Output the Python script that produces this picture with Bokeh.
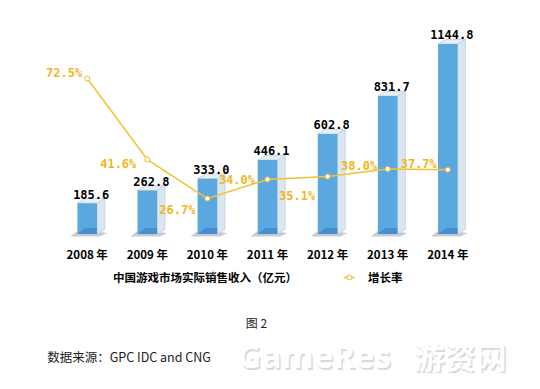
from bokeh.plotting import figure
from bokeh.models import Range1d, Legend, LegendItem, Label
from bokeh.core.properties import value
from bokeh.embed import file_html
from bokeh.resources import INLINE

# ---------------- data ----------------
years = ["2008 年", "2009 年", "2010 年", "2011 年", "2012 年", "2013 年", "2014 年"]
revenue = [185.6, 262.8, 333.0, 446.1, 602.8, 831.7, 1144.8]
growth = [72.5, 41.6, 26.7, 34.0, 35.1, 38.0, 37.7]
series_names = ["中国游戏市场实际销售收入（亿元）", "增长率"]
figure_caption = "图 2"
source_note = "数据来源：GPC IDC and CNG"
watermark_latin = "GameRes"
watermark_cjk = "游资网"

# ---------------- layout / style ----------------
W, H = 524, 373
PX_PER_CAT = 60.1      # px between bar centres
CAT0_PX = 86.7         # px from left of first bar centre
BASE_PX = 233.5        # px from top of the zero line (bars)
PX_PER_REV = 0.16597   # px per revenue unit
PCT0_PX = 268.0        # px from top of 0 %
PX_PER_PCT = 2.62      # px per percent point

BAR_W, DEPTH_X, DEPTH_Y = 19.6, 7.8, 4.6

# per-label pixel offsets for the growth labels (right edge, baseline)
pct_dx = [-5, -11, -12, -12.5, -12.5, -10.5, -11]
pct_dy = [-6, 4, 11, 1, 19, -3, -6]

BLUE = "#5BA8E1"
DARK_BLUE = "#3F86C8"
SIDE = "#DCE6F0"
TOP = "#E8EFF7"
EDGE = "#C6D5E4"
GOLD_LINE = "#F0C234"
GOLD_TEXT = "#F2B51C"

x_start = -CAT0_PX / PX_PER_CAT
x_end = (W - CAT0_PX) / PX_PER_CAT
y_start = -(H - BASE_PX) / PX_PER_REV
y_end = BASE_PX / PX_PER_REV
p_start = -(H - PCT0_PX) / PX_PER_PCT
p_end = PCT0_PX / PX_PER_PCT

p = figure(width=W, height=H, x_range=Range1d(x_start, x_end), y_range=Range1d(y_start, y_end),
           output_backend="svg", toolbar_location=None, min_border=0,
           x_axis_location=None, y_axis_location=None)
p.extra_y_ranges = {"pct": Range1d(p_start, p_end)}
p.grid.visible = False
p.outline_line_color = None
p.background_fill_color = "white"
p.border_fill_color = "white"

idx = list(range(len(years)))
half = BAR_W / 2 / PX_PER_CAT
dxu = DEPTH_X / PX_PER_CAT
dyu = DEPTH_Y / PX_PER_REV
pxu = 1 / PX_PER_CAT
pyu = 1 / PX_PER_REV

# base shadows
sh_xs, sh_ys = [], []
for i in idx:
    sh_xs.append([i - half - 7 * pxu, i + half + 3 * pxu, i + half + dxu + 2 * pxu, i - half + 2 * pxu])
    sh_ys.append([-2.5 * pyu, -2.5 * pyu, 1 * pyu, DEPTH_Y * pyu])
p.patches(sh_xs, sh_ys, fill_color="#8a8a8a", fill_alpha=0.45, line_color=None)

# 3D box faces
side_xs, side_ys, top_xs, top_ys, fl_xs, fl_ys = [], [], [], [], [], []
for i, v in zip(idx, revenue):
    side_xs.append([i + half, i + half + dxu, i + half + dxu, i + half])
    side_ys.append([0, dyu, v + dyu, v])
    top_xs.append([i - half, i + half, i + half + dxu, i - half + dxu])
    top_ys.append([v, v, v + dyu, v + dyu])
    fl_xs.append([i - half, i + half, i + half, i - half + dxu])
    fl_ys.append([0, 0, dyu * 1.3, dyu * 1.3])
p.patches(side_xs, side_ys, fill_color=SIDE, line_color=EDGE, line_width=1)
p.patches(top_xs, top_ys, fill_color=TOP, line_color=EDGE, line_width=1)

bars = p.vbar(x=idx, top=revenue, bottom=0, width=2 * half, fill_color=BLUE, line_color=None)
p.patches(fl_xs, fl_ys, fill_color=DARK_BLUE, fill_alpha=0.75, line_color=None)

# value labels
p.text(x=idx, y=revenue, text=[f"{v:.1f}" for v in revenue], x_offset=4, y_offset=-9,
       text_align="center", text_baseline="alphabetic", text_font=value("DejaVu Sans Mono"),
       text_font_style="bold", text_font_size="12px", text_color="black")

# year labels
p.text(x=idx, y=[0] * len(idx), text=years, y_offset=19.5, text_align="center",
       text_baseline="alphabetic", text_font=value("Noto Sans CJK SC"), text_font_style="bold",
       text_font_size="11.5px", text_color="black")

# growth line
line = p.line(x=idx, y=growth, y_range_name="pct", line_color=GOLD_LINE, line_width=1.5)
pts = p.scatter(x=idx, y=growth, y_range_name="pct", marker="circle", size=5,
                fill_color="white", line_color="#E8B82A", line_width=1)
p.text(x=idx, y=growth, text=[f"{g:.1f}%" for g in growth], y_range_name="pct",
       x_offset=pct_dx, y_offset=pct_dy, text_align="right", text_baseline="alphabetic",
       text_font=value("DejaVu Sans Mono"), text_font_style="bold", text_font_size="12px",
       text_color=GOLD_TEXT)

# legend
legend_sq = p.scatter(x=[], y=[], marker="square", fill_color="#62B8EA", line_color=None)
common = dict(orientation="horizontal", glyph_width=12, glyph_height=12, padding=0, margin=0,
              border_line_color=None, background_fill_alpha=0,
              label_text_font="Noto Sans CJK SC", label_text_font_style="bold",
              label_text_font_size="11.5px", label_text_color="black")
leg1 = Legend(items=[LegendItem(label=series_names[0], renderers=[legend_sq])],
              location=(90, 88), label_standoff=11, **common)
leg2 = Legend(items=[LegendItem(label=series_names[1], renderers=[line, pts])],
              location=(343, 88), label_standoff=13, **common)
p.add_layout(leg1)
p.add_layout(leg2)

# captions
p.add_layout(Label(x=256, y=51.3, x_units="screen", y_units="screen", text=figure_caption,
                   text_align="center", text_baseline="middle", text_font="Noto Sans CJK SC",
                   text_font_size="12px", text_color="#222222"))
p.add_layout(Label(x=46.7, y=17, x_units="screen", y_units="screen", text=source_note,
                   text_align="left", text_baseline="middle", text_font="Noto Sans CJK SC",
                   text_font_size="12.5px", text_color="#222222"))

# watermark: soft grey shadow with white letters on top
for dx, dy, col in [(1.5, -1.5, "#d9d9d9"), (0, 0, "#ffffff")]:
    p.add_layout(Label(x=237 + dx, y=18 + dy, x_units="screen", y_units="screen",
                       text=watermark_latin, text_align="left", text_baseline="middle",
                       text_font="Open Sans", text_font_style="bold", text_font_size="33px",
                       text_color=col))
    p.add_layout(Label(x=413 + dx, y=18 + dy, x_units="screen", y_units="screen",
                       text=watermark_cjk, text_align="left", text_baseline="middle",
                       text_font="Noto Sans CJK SC", text_font_style="bold", text_font_size="31px",
                       text_color=col))

open("out.html", "w").write(file_html(p, INLINE))
